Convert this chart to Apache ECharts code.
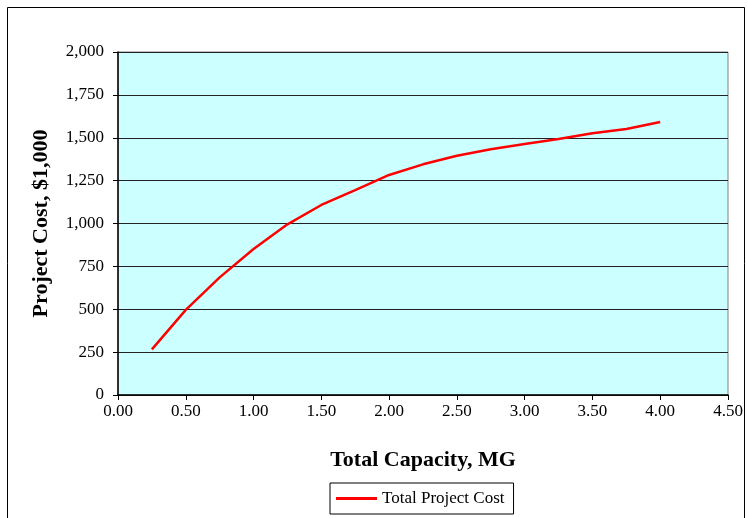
<!DOCTYPE html>
<html>
<head>
<meta charset="utf-8">
<script src="https://cdn.jsdelivr.net/npm/echarts@6/dist/echarts.min.js"></script>
<style>
  html, body { margin: 0; padding: 0; background: #fff; }
  #chart { width: 748px; height: 518px; }
</style>
</head>
<body>
<div id="chart"></div>
<script>
const capacity = [0.25, 0.5, 0.75, 1.0, 1.25, 1.5, 1.75, 2.0, 2.25, 2.5, 2.75, 3.0, 3.25, 3.5, 3.75, 4.0]
const projectCost = [266, 496, 686, 851, 995, 1108, 1195, 1283, 1345, 1395, 1433, 1464, 1493, 1526, 1551, 1592]

const serif = '"Liberation Serif", "Times New Roman", serif'
const chart = echarts.init(document.getElementById('chart'))

chart.setOption({
  animation: false,
  textStyle: { fontFamily: serif },
  graphic: [
    {
      type: 'rect',
      shape: { x: 7.5, y: 7.5, width: 737, height: 530 },
      style: { fill: 'none', stroke: '#000', lineWidth: 1 },
      silent: true,
    },
  ],
  grid: { left: 118, right: 20, top: 52, bottom: 123, show: true, backgroundColor: '#ccffff', borderColor: '#808080', borderWidth: 1 },
  legend: {
    data: [{ name: 'Total Project Cost', icon: 'rect' }],
    left: 330,
    top: 483,
    padding: [7, 9, 7, 6],
    borderColor: '#000',
    borderWidth: 1,
    itemWidth: 41,
    itemHeight: 3,
    itemGap: 4,
    textStyle: { fontFamily: serif, fontSize: 17, color: '#000' },
  },
  xAxis: {
    type: 'value',
    min: 0,
    max: 4.5,
    interval: 0.5,
    name: 'Total Capacity, MG',
    nameLocation: 'middle',
    nameGap: 54,
    nameTextStyle: { fontFamily: serif, fontSize: 22, fontWeight: 'bold', color: '#000' },
    axisLine: { onZero: false, lineStyle: { color: '#000', width: 1.5 } },
    axisTick: { show: true, length: 5, lineStyle: { color: '#000' } },
    axisLabel: { formatter: (v) => v.toFixed(2), fontFamily: serif, fontSize: 17, color: '#000', margin: 8 },
    splitLine: { show: false },
  },
  yAxis: {
    type: 'value',
    min: 0,
    max: 2000,
    interval: 250,
    name: 'Project Cost, $1,000',
    nameLocation: 'middle',
    nameGap: 66,
    nameTextStyle: { fontFamily: serif, fontSize: 22, fontWeight: 'bold', color: '#000' },
    axisLine: { show: true, lineStyle: { color: '#000', width: 1.5 } },
    axisTick: { show: true, length: 5, lineStyle: { color: '#000' } },
    axisLabel: {
      formatter: (v) => v.toLocaleString('en-US'),
      fontFamily: serif,
      fontSize: 17,
      color: '#000',
      margin: 14,
    },
    splitLine: { show: true, lineStyle: { color: '#222', width: 1 } },
  },
  series: [
    {
      name: 'Total Project Cost',
      type: 'line',
      data: capacity.map((c, i) => [c, projectCost[i]]),
      symbol: 'none',
      lineStyle: { color: '#ff0000', width: 2.5 },
      itemStyle: { color: '#ff0000' },
    },
  ],
})
</script>
</body>
</html>
